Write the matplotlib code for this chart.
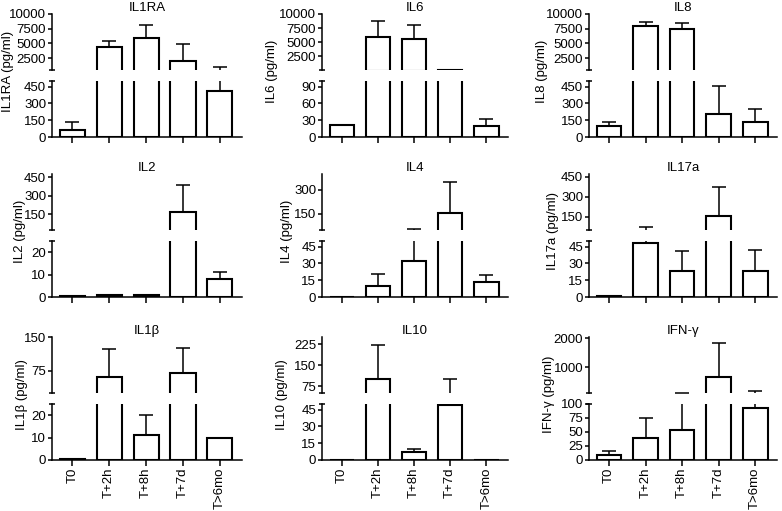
import matplotlib
matplotlib.use("Agg")
import matplotlib.pyplot as plt
import numpy as np

plt.rcParams['font.family'] = ['Liberation Sans', 'DejaVu Sans']

categories = ["T0", "T+2h", "T+8h", "T+7d", "T>6mo"]

il1ra_mean = [60, 4450, 5870, 2080, 415]
il1ra_err = [77, 950, 2200, 2870, 510]
il6_mean = [22, 6000, 5570, 150, 19]
il6_err = [0, 2700, 2430, 0, 14]
il8_mean = [95, 7980, 7420, 209, 134]
il8_err = [39, 670, 1010, 247, 116]
il2_mean = [0.3, 0.7, 0.8, 166, 8]
il2_err = [0.1, 0.2, 0.3, 224, 3.3]
il4_mean = [0, 9.8, 32.2, 154, 13]
il4_err = [0, 10.6, 23, 193, 6.2]
il17a_mean = [1, 48.5, 23.4, 155, 22.8]
il17a_err = [0.3, 21.5, 17.6, 217, 19.2]
il1b_mean = [0.5, 60.3, 11.2, 69, 10]
il1b_err = [0.1, 63.7, 8.7, 57.5, 0]
il10_mean = [0, 100, 7, 48.8, 0]
il10_err = [0, 120, 3.2, 51.2, 0]
ifng_mean = [9.4, 39.4, 54, 667, 93]
ifng_err = [6.5, 36, 81, 1166, 92]

titles = ["IL1RA", "IL6", "IL8", "IL2", "IL4", "IL17a", "IL1β", "IL10", "IFN-γ"]
means = [il1ra_mean, il6_mean, il8_mean, il2_mean, il4_mean, il17a_mean,
         il1b_mean, il10_mean, ifng_mean]
errs = [il1ra_err, il6_err, il8_err, il2_err, il4_err, il17a_err,
        il1b_err, il10_err, ifng_err]

lower_lims = [(0, 500), (0, 100), (0, 500), (0, 25), (0, 50), (0, 50),
              (0, 25), (0, 50), (0, 100)]
upper_lims = [(500, 10000), (100, 10000), (500, 10000), (25, 475), (50, 400),
              (50, 470), (25, 150), (50, 250), (120, 2050)]
lower_ticks = [[0, 150, 300, 450], [0, 30, 60, 90], [0, 150, 300, 450],
               [0, 10, 20], [0, 15, 30, 45], [0, 15, 30, 45],
               [0, 10, 20], [0, 15, 30, 45], [0, 25, 50, 75, 100]]
upper_ticks = [[2500, 5000, 7500, 10000], [2500, 5000, 7500, 10000],
               [2500, 5000, 7500, 10000], [150, 300, 450], [150, 300],
               [150, 300, 450], [75, 150], [75, 150, 225], [1000, 2000]]

# layout (pixels)
W, H = 782, 511
col_left = [52, 322, 589]
col_w = [190, 186, 188]
row_top = [14, 174, 337]
seg_h = 56
gap = 11
ylabel_x = [[8, 272, 542], [20, 287, 553], [22, 282, 549]]

fig = plt.figure(figsize=(W / 100, H / 100), dpi=100)


def rect(left, top, w, h):
    return [left / W, 1 - (top + h) / H, w / W, h / H]


x = np.arange(len(categories))
FS = 9.5
LW = 1.1


def draw(ax, xs, m, e, floor):
    bm = m > floor
    if bm.any():
        ax.bar(xs[bm], m[bm], width=0.68, color='white', edgecolor='black',
               linewidth=1.5, zorder=2)
    em = ((m + e) > floor) & (e > 0)
    if em.any():
        ax.vlines(xs[em], m[em], m[em] + e[em], colors='black',
                  linewidth=LW, zorder=3)
        ax.plot(xs[em], m[em] + e[em], linestyle='none', marker='_',
                ms=10, mew=LW, color='black', zorder=3)


for i in range(9):
    r, c = divmod(i, 3)
    up = fig.add_axes(rect(col_left[c], row_top[r], col_w[c], seg_h))
    lo = fig.add_axes(rect(col_left[c], row_top[r] + seg_h + gap, col_w[c], seg_h))
    m = np.array(means[i], dtype=float)
    e = np.array(errs[i], dtype=float)
    draw(up, x, m, e, upper_lims[i][0])
    draw(lo, x, m, e, -1)
    for ax in (up, lo):
        ax.set_xlim(-0.55, 4.6)
        ax.spines['top'].set_visible(False)
        ax.spines['right'].set_visible(False)
        ax.spines['left'].set_linewidth(LW)
        ax.spines['bottom'].set_linewidth(LW)
        ax.tick_params(axis='both', direction='out', width=LW, length=3,
                       labelsize=FS, pad=1.2)
        ax.set_facecolor('none')
    up.spines['bottom'].set_visible(False)
    up.set_xticks([])
    up.set_ylim(*upper_lims[i])
    up.set_yticks(upper_ticks[i])
    up.set_yticklabels([str(t) for t in upper_ticks[i]])
    lo.set_ylim(*lower_lims[i])
    lo.set_yticks(lower_ticks[i])
    lo.set_yticklabels([str(t) for t in lower_ticks[i]])
    lo.set_xticks(x)
    lo.tick_params(axis='x', length=4)
    if r == 2:
        lo.set_xticklabels(categories, rotation=90, fontsize=FS)
    else:
        lo.set_xticklabels([])
    # break marks
    up.plot([0], [0], marker='_', ms=5, mew=LW, color='black',
            transform=up.transAxes, clip_on=False)
    lo.plot([0], [1], marker='_', ms=5, mew=LW, color='black',
            transform=lo.transAxes, clip_on=False)
    up.set_title(titles[i], fontsize=FS, pad=2)
    yc = row_top[r] + seg_h + gap / 2 - 4
    fig.text(ylabel_x[r][c] / W, 1 - yc / H, f"{titles[i]} (pg/ml)",
             rotation=90, ha='center', va='center', fontsize=FS)

fig.savefig("out.png", dpi=100, facecolor='white')
